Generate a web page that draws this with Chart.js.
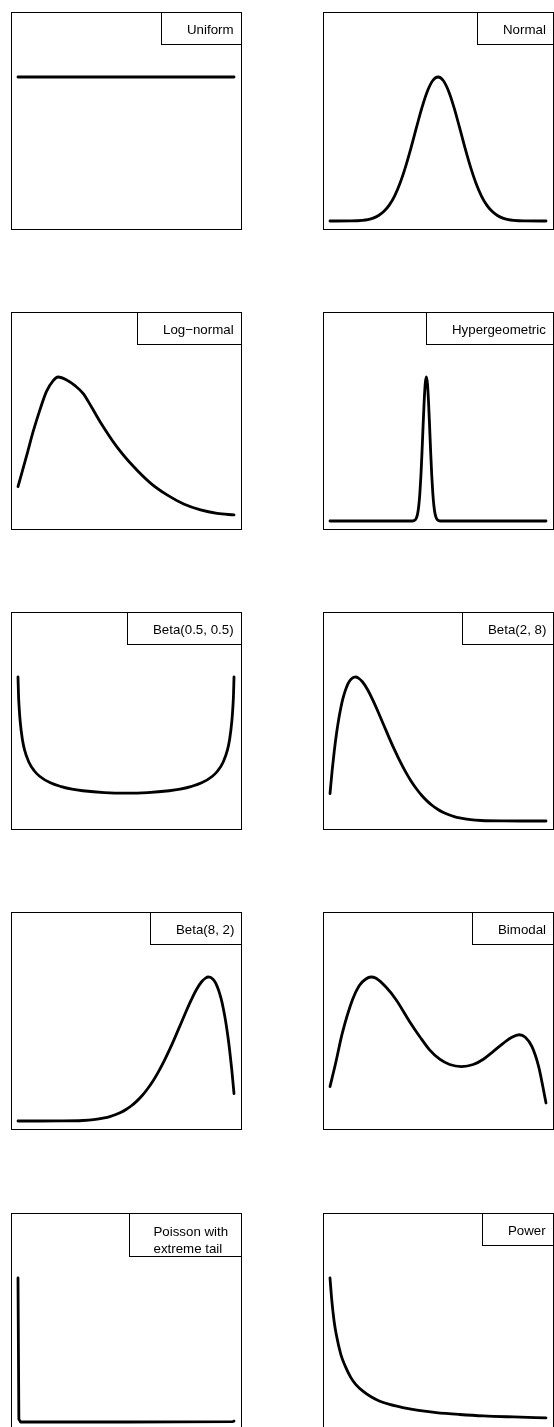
<!DOCTYPE html>
<html>
<head>
<meta charset="utf-8">
<script src="https://cdn.jsdelivr.net/npm/chart.js@4"></script>
<style>
  html, body { margin: 0; padding: 0; background: #fff; overflow: hidden; }
  #grid { position: relative; width: 554px; height: 1427px; }
  canvas { position: absolute; }
</style>
</head>
<body>
<div id="grid"></div>
<script>
// values, x scaled 0..1 across each panel, y scaled so the peak is 1
const uniformX = [0, 1];
const uniformY = [1, 1];

const normalX = [0, 0.1, 0.15, 0.175, 0.2, 0.225, 0.25, 0.275, 0.3, 0.325, 0.35, 0.375, 0.4, 0.425, 0.45, 0.475, 0.5,
  0.525, 0.55, 0.575, 0.6, 0.625, 0.65, 0.675, 0.7, 0.725, 0.75, 0.775, 0.8, 0.825, 0.85, 0.9, 1];
const normalY = [0, 0.001, 0.005, 0.01, 0.02, 0.038, 0.067, 0.112, 0.177, 0.266, 0.378, 0.508, 0.648, 0.784, 0.898, 0.974, 1,
  0.974, 0.898, 0.784, 0.648, 0.508, 0.378, 0.266, 0.177, 0.112, 0.067, 0.038, 0.02, 0.01, 0.005, 0.001, 0];

const lognormX = [0, 0.039, 0.07, 0.101, 0.132, 0.163, 0.186, 0.225, 0.264, 0.302, 0.341, 0.38, 0.457, 0.535, 0.612, 0.69, 0.767, 0.845, 0.922, 1];
const lognormY = [0.239, 0.448, 0.62, 0.77, 0.9, 0.975, 1, 0.98, 0.94, 0.885, 0.79, 0.69, 0.517, 0.378, 0.265, 0.181, 0.118, 0.077, 0.053, 0.042];

const hyperX = [0, 0.2, 0.38, 0.39, 0.4, 0.406, 0.411, 0.416, 0.421, 0.426, 0.431, 0.436, 0.441, 0.446, 0.451, 0.456, 0.461, 0.466, 0.471, 0.476, 0.481, 0.486, 0.492, 0.502, 0.512, 0.7, 1];
const hyperY = [0, 0, 0, 0.003, 0.021, 0.053, 0.106, 0.192, 0.318, 0.48, 0.662, 0.832, 0.955, 1, 0.955, 0.832, 0.662, 0.48, 0.318, 0.192, 0.106, 0.053, 0.021, 0.003, 0, 0, 0];

const betaHalfX = [0, 0.0025, 0.005, 0.01, 0.02, 0.03, 0.05, 0.075, 0.1, 0.15, 0.2, 0.25, 0.3, 0.4, 0.5,
  0.6, 0.7, 0.75, 0.8, 0.85, 0.9, 0.925, 0.95, 0.97, 0.98, 0.99, 0.995, 0.9975, 1];
const betaHalfY = [1, 0.87, 0.796, 0.693, 0.569, 0.496, 0.41, 0.349, 0.311, 0.265, 0.239, 0.221, 0.21, 0.197, 0.193,
  0.197, 0.21, 0.221, 0.239, 0.265, 0.311, 0.349, 0.41, 0.496, 0.569, 0.693, 0.796, 0.87, 1];

const beta28X = [0, 0.01, 0.02, 0.03, 0.04, 0.05, 0.06, 0.07, 0.08, 0.09, 0.1, 0.11, 0.12, 0.13, 0.15, 0.175, 0.2, 0.225, 0.25,
  0.275, 0.3, 0.325, 0.35, 0.375, 0.4, 0.425, 0.45, 0.475, 0.5, 0.525, 0.55, 0.575, 0.6, 0.65, 0.7, 0.8, 0.9, 1];
const beta28Y = [0.19, 0.351, 0.489, 0.606, 0.704, 0.785, 0.851, 0.902, 0.942, 0.97, 0.988, 0.998, 1, 0.994, 0.967, 0.91, 0.834, 0.75, 0.662,
  0.574, 0.49, 0.412, 0.341, 0.278, 0.224, 0.177, 0.138, 0.106, 0.08, 0.059, 0.043, 0.03, 0.021, 0.009, 0.0034, 0.0004, 0, 0];

const beta82X = [0, 0.1, 0.2, 0.3, 0.35, 0.4, 0.425, 0.45, 0.475, 0.5, 0.525, 0.55, 0.575, 0.6, 0.625, 0.65, 0.675, 0.7, 0.725,
  0.75, 0.775, 0.8, 0.825, 0.85, 0.87, 0.88, 0.89, 0.9, 0.91, 0.92, 0.93, 0.94, 0.95, 0.96, 0.97, 0.98, 0.99, 1];
const beta82Y = [0, 0, 0.0004, 0.0034, 0.009, 0.021, 0.03, 0.043, 0.059, 0.08, 0.106, 0.138, 0.177, 0.224, 0.278, 0.341, 0.412, 0.49, 0.574,
  0.662, 0.75, 0.834, 0.91, 0.967, 0.994, 1, 0.998, 0.988, 0.97, 0.942, 0.902, 0.851, 0.785, 0.704, 0.606, 0.489, 0.351, 0.19];

const bimodalX = [0, 0.026, 0.057, 0.104, 0.135, 0.166, 0.189, 0.213, 0.259, 0.306, 0.368, 0.415, 0.461, 0.508, 0.554, 0.609,
  0.663, 0.71, 0.756, 0.803, 0.842, 0.876, 0.904, 0.935, 0.966, 1];
const bimodalY = [0.239, 0.401, 0.61, 0.842, 0.94, 0.986, 1, 0.991, 0.93, 0.842, 0.691, 0.587, 0.494, 0.429, 0.392, 0.378,
  0.392, 0.429, 0.483, 0.541, 0.582, 0.599, 0.582, 0.517, 0.378, 0.125];

const poissonX = [0, 0.004, 0.012, 0.5, 0.995, 1];
const poissonY = [1, 0.02, 0, 0, 0.003, 0.006];

const powerX = [0, 0.008, 0.019, 0.03, 0.05, 0.07, 0.096, 0.12, 0.151, 0.19, 0.228, 0.28, 0.337, 0.41, 0.492, 0.6, 0.71, 0.85, 1];
const powerY = [1, 0.85, 0.7, 0.6, 0.47, 0.39, 0.31, 0.26, 0.216, 0.175, 0.146, 0.12, 0.1, 0.08, 0.065, 0.052, 0.042, 0.035, 0.029];

const labels = [
  ['Uniform'], ['Normal'],
  ['Log\u2212normal'], ['Hypergeometric'],
  ['Beta(0.5, 0.5)'], ['Beta(2, 8)'],
  ['Beta(8, 2)'], ['Bimodal'],
  ['Poisson with', 'extreme tail'], ['Power']
];
const seriesX = [uniformX, normalX, lognormX, hyperX, betaHalfX, beta28X, beta82X, bimodalX, poissonX, powerX];
const seriesY = [uniformY, normalY, lognormY, hyperY, betaHalfY, beta28Y, beta82Y, bimodalY, poissonY, powerY];

const rowTops = [0, 300, 600, 900, 1201];

// frame round the plot plus the boxed label in the top right corner
const frameAndLabel = {
  id: 'frameAndLabel',
  afterDraw(chart, args, opts) {
    const { ctx, chartArea } = chart;
    const lines = opts.lines;
    ctx.save();
    ctx.strokeStyle = '#000';
    ctx.lineWidth = 1;
    ctx.strokeRect(chartArea.left + 0.5, chartArea.top + 0.5,
      chartArea.right - chartArea.left - 1, chartArea.bottom - chartArea.top - 1);

    ctx.font = '13.3px "Liberation Sans", Arial, sans-serif';
    const w = Math.max(...lines.map(l => ctx.measureText(l).width));
    const multi = lines.length > 1;
    const boxW = Math.round(w + (multi ? 37 : 33));
    const boxH = multi ? 43 : 32;
    const right = chartArea.right - 0.5;
    const left = right - boxW;
    const top = chartArea.top + 0.5;
    ctx.fillStyle = '#fff';
    ctx.fillRect(left, top, boxW, boxH);
    ctx.strokeRect(left, top, boxW, boxH);
    ctx.fillStyle = '#000';
    ctx.textBaseline = 'alphabetic';
    lines.forEach((l, i) => {
      ctx.fillText(l, left + (multi ? 24 : 25.5), top + (multi ? 22.5 + i * 16.7 : 21));
    });
    ctx.restore();
  }
};

const grid = document.getElementById('grid');

labels.forEach((lines, i) => {
  const col = i % 2;
  const row = Math.floor(i / 2);
  const canvas = document.createElement('canvas');
  canvas.width = 277;
  canvas.height = 300;
  canvas.style.left = (col * 277) + 'px';
  canvas.style.top = rowTops[row] + 'px';
  grid.appendChild(canvas);

  const pts = seriesX[i].map((x, k) => ({ x: x, y: seriesY[i][k] }));
  const isPoisson = i === 8;

  new Chart(canvas.getContext('2d'), {
    type: 'line',
    data: {
      datasets: [{
        label: lines.join(' '),
        data: pts,
        borderColor: '#000',
        borderWidth: 2.8,
        borderCapStyle: 'round',
        borderJoinStyle: 'round',
        pointRadius: 0,
        fill: false,
        tension: 0,
        cubicInterpolationMode: isPoisson ? 'default' : 'monotone'
      }]
    },
    options: {
      responsive: false,
      animation: false,
      devicePixelRatio: 1,
      layout: {
        padding: col === 0
          ? { left: 11, right: 35, top: 12, bottom: 70 }
          : { left: 46, right: 0, top: 12, bottom: 70 }
      },
      scales: {
        x: { type: 'linear', display: false, min: -0.0324, max: 1.037 },
        y: { type: 'linear', display: false, min: -0.0625, max: 1.4514 }
      },
      plugins: {
        legend: { display: false },
        tooltip: { enabled: false },
        frameAndLabel: { lines: lines }
      }
    },
    plugins: [frameAndLabel]
  });
});
</script>
</body>
</html>
